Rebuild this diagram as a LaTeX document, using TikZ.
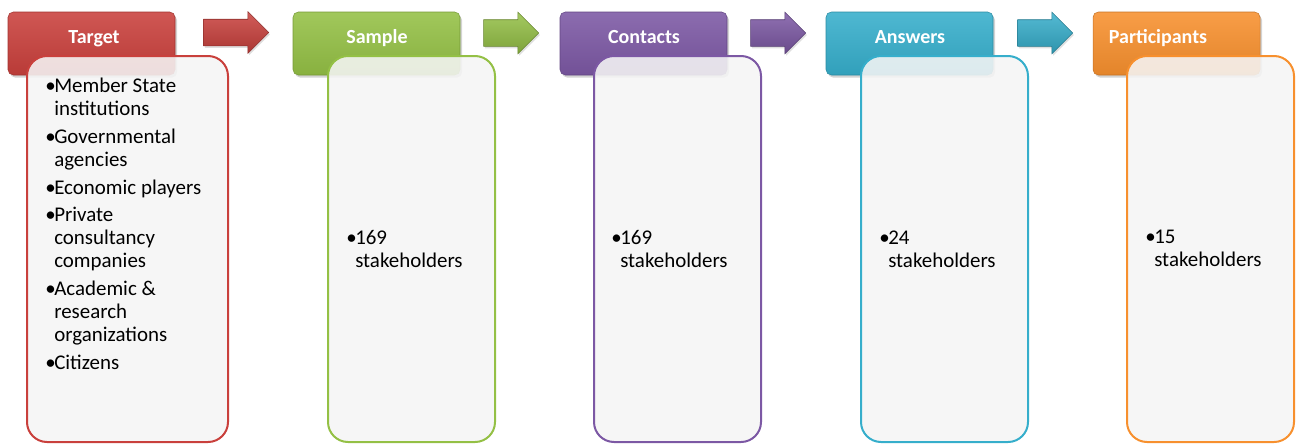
\documentclass[tikz,border=0pt]{standalone}
\usepackage{fontspec}
\setmainfont{Carlito}
\usepackage{tikz}
\usetikzlibrary{shapes.arrows, shadows}
\usepackage{xcolor}

\definecolor{cRed}{HTML}{C9403C}
\definecolor{cGreen}{HTML}{94C045}
\definecolor{cPurple}{HTML}{7C58A4}
\definecolor{cCyan}{HTML}{36AECB}
\definecolor{cOrange}{HTML}{F7902E}
\definecolor{cardfill}{HTML}{F5F5F5}

\newcommand{\bul}{\makebox[6.75pt][l]{•}}
\newcommand{\ind}{\hspace*{6.75pt}}

\begin{document}
\begin{tikzpicture}[
    x=0.75pt, y=-0.75pt,
    head/.style={draw=#1!80!black, line width=0.4pt, rounded corners=4pt, top color=#1!88!white, bottom color=#1!92!black, minimum width=125.25pt, minimum height=47.25pt, inner sep=0pt, drop shadow={opacity=0.35, shadow xshift=1.5pt, shadow yshift=-2pt}},
    title/.style={anchor=base, text=white, font=\fontsize{15}{18}\selectfont\bfseries},
    card/.style={draw=#1, line width=1.5pt, rounded corners=15pt, fill=cardfill, fill opacity=0.88, minimum height=289.5pt, inner sep=0pt},
    flow/.style={single arrow, draw=#1!70!black, line width=0.4pt, top color=#1!85!white, bottom color=#1!85!black, single arrow head extend=5.6pt, single arrow tip angle=90, text height=19.5pt, text depth=0pt, minimum height=41.25pt, inner sep=0pt, drop shadow={opacity=0.25, shadow xshift=1pt, shadow yshift=-1.5pt}},
    txt/.style={anchor=north west, inner sep=0pt, align=left, font=\fontsize{15.7}{17.3}\selectfont}
]
\useasboundingbox (0,0) rectangle (1298,446);

% 标题框
\node[head=cRed] (tgtH) at (91.5,43.5) {};
\node[head=cGreen] (smpH) at (376.5,43.5) {};
\node[head=cPurple] (conH) at (643.5,43.5) {};
\node[head=cCyan] (ansH) at (909.5,43.5) {};
\node[head=cOrange] (parH) at (1176.5,43.5) {};

% 箭头
\node[flow=cRed, minimum height=48.75pt] (a1) at (229.5,32.5) {};
\node[flow=cGreen] (a2) at (504.5,33) {};
\node[flow=cPurple] (a3) at (771.5,33) {};
\node[flow=cCyan] (a4) at (1038.5,33) {};

% 内容框
\node[card=cRed, minimum width=150.75pt] (tgtB) at (127.5,249) {};
\node[card=cGreen, minimum width=125.25pt] (smpB) at (411.5,249) {};
\node[card=cPurple, minimum width=125.25pt] (conB) at (677.5,249) {};
\node[card=cCyan, minimum width=125.25pt] (ansB) at (944.5,249) {};
\node[card=cOrange, minimum width=125.25pt] (parB) at (1210.5,249) {};

% 标题文字
\node[title] (tgtT) at (94,43) {Target};
\node[title] (smpT) at (377,43) {Sample};
\node[title] (conT) at (644,43) {Contacts};
\node[title] (ansT) at (910,43) {Answers};
\node[title] (parT) at (1158,43) {Participants};

% 列表文字
\node[txt] (tgtL) at (45,78) {\bul Member State\\ \ind institutions\\[3.4pt]
    \bul Governmental\\ \ind agencies\\[3.4pt]
    \bul Economic players\\[3.4pt]
    \bul Private\\ \ind consultancy\\ \ind companies\\[3.4pt]
    \bul Academic \&\\ \ind research\\ \ind organizations\\[3.4pt]
    \bul Citizens};
\node[txt] (smpL) at (346,230) {\bul 169\\ \ind stakeholders};
\node[txt] (conL) at (611,230) {\bul 169\\ \ind stakeholders};
\node[txt] (ansL) at (879,231) {\bul 24\\ \ind stakeholders};
\node[txt] (parL) at (1145,230) {\bul 15\\ \ind stakeholders};

\end{tikzpicture}
\end{document}
